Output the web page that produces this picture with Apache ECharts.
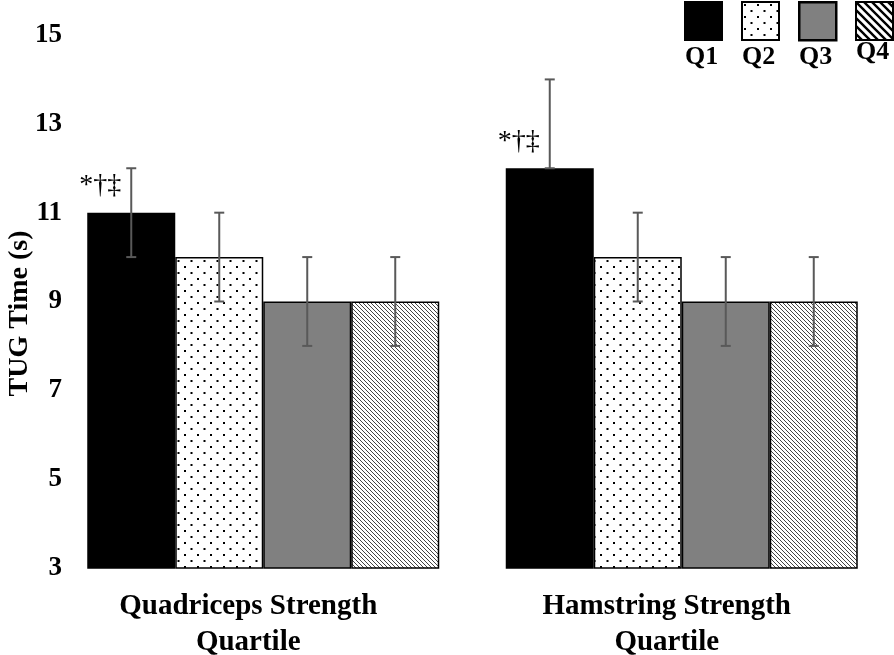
<!DOCTYPE html>
<html>
<head>
<meta charset="utf-8">
<script src="https://cdn.jsdelivr.net/npm/echarts@6/dist/echarts.min.js"></script>
<style>
html,body{margin:0;padding:0;background:#fff;}
#chart{width:894px;height:655px;}
</style>
</head>
<body>
<div id="chart"></div>
<script>
// ---- data ----
var categories = ['Quadriceps Strength\nQuartile', 'Hamstring Strength\nQuartile'];
var seriesNames = ['Q1', 'Q2', 'Q3', 'Q4'];
var q1Values = [11, 12];
var q2Values = [10, 10];
var q3Values = [9, 9];
var q4Values = [9, 9];
var q1Low = [10, 12], q1High = [12, 14];
var q2Low = [9, 9],   q2High = [11, 11];
var q3Low = [8, 8],   q3High = [10, 10];
var q4Low = [8, 8],   q4High = [10, 10];
var sigMarks = ['*†‡', '*†‡'];
var yTicks = [3, 5, 7, 9, 11, 13, 15];

var FONT = '"Liberation Serif", "Times New Roman", serif';
var BAR_W = 88;

function makeCanvas(w, h, draw) {
  var c = document.createElement('canvas');
  c.width = w; c.height = h;
  var ctx = c.getContext('2d');
  ctx.fillStyle = '#fff'; ctx.fillRect(0, 0, w, h);
  draw(ctx, w, h);
  return c;
}
var dotCanvas = makeCanvas(13, 12, function (ctx) {
  ctx.fillStyle = '#000';
  ctx.fillRect(2, 2, 2, 2);
  ctx.fillRect(8.5, 8, 2, 2);
});
function hatch(size, lw, col) {
  return makeCanvas(size, size, function (ctx, w, h) {
    ctx.strokeStyle = col; ctx.lineWidth = lw;
    ctx.beginPath();
    ctx.moveTo(-1, -1); ctx.lineTo(w + 1, h + 1);
    ctx.moveTo(-1, h - 1); ctx.lineTo(1, h + 1);
    ctx.moveTo(w - 1, -1); ctx.lineTo(w + 1, 1);
    ctx.stroke();
  });
}
var hatchCanvas = hatch(4, 1, '#444');
var hatchBold = hatch(8, 2.4, '#000');

var fills = [
  '#000000',
  { image: dotCanvas, repeat: 'repeat' },
  '#808080',
  { image: hatchCanvas, repeat: 'repeat' }
];
var values = [q1Values, q2Values, q3Values, q4Values];
var lows = [q1Low, q2Low, q3Low, q4Low];
var highs = [q1High, q2High, q3High, q4High];

var series = [];
seriesNames.forEach(function (name, i) {
  series.push({
    name: name, type: 'bar', data: values[i],
    barWidth: BAR_W, barGap: '0%',
    itemStyle: { color: fills[i], borderColor: '#000', borderWidth: 1.5 },
    emphasis: { disabled: true }, z: 2
  });
});
seriesNames.forEach(function (name, i) {
  var d = categories.map(function (c, k) { return [k, lows[i][k], highs[i][k]]; });
  series.push({
    type: 'custom', name: name + ' err', data: d, z: 5, silent: true,
    renderItem: function (params, api) {
      var lo = api.coord([api.value(0), api.value(1)]);
      var hi = api.coord([api.value(0), api.value(2)]);
      var x = lo[0] + (i - 1.5) * BAR_W;
      var cap = 5;
      var st = { stroke: '#595959', lineWidth: 2 };
      return { type: 'group', children: [
        { type: 'line', shape: { x1: x, y1: lo[1], x2: x, y2: hi[1] }, style: st },
        { type: 'line', shape: { x1: x - cap, y1: lo[1], x2: x + cap, y2: lo[1] }, style: st },
        { type: 'line', shape: { x1: x - cap, y1: hi[1], x2: x + cap, y2: hi[1] }, style: st }
      ]};
    }
  });
});
series.push({
  type: 'custom', name: 'sig', z: 6, silent: true,
  data: categories.map(function (c, k) { return [k, q1Values[k], sigMarks[k]]; }),
  renderItem: function (params, api) {
    var p = api.coord([api.value(0), api.value(1) + 0.6]);
    var x = p[0] - 1.5 * BAR_W - 10;
    return { type: 'text', style: {
      x: x, y: p[1], text: sigMarks[params.dataIndex], fill: '#000',
      font: '28px ' + FONT, align: 'right', verticalAlign: 'middle' } };
  }
});

var legendData = seriesNames.map(function (n, i) {
  var it = { name: n };
  if (i === 3) it.itemStyle = { color: { image: hatchBold, repeat: 'repeat' } };
  if (i === 2) it.itemStyle = { borderWidth: 2.5 };
  return it;
});
var legendLeft = [684, 741, 798, 855];
var legends = legendData.map(function (d, i) {
  return {
    data: [d], left: legendLeft[i], top: 1, padding: 0, itemWidth: 37, itemHeight: 38,
    icon: 'rect', selectedMode: false, formatter: function () { return ''; },
    textStyle: { fontSize: 1 }
  };
});
var labelY = [57, 57, 57, 52];
var graphics = seriesNames.map(function (n, i) {
  return { type: 'text', left: legendLeft[i] + 1, top: labelY[i] - 13,
    style: { text: n, font: 'bold 26px ' + FONT, fill: '#000', width: 36, align: 'center' } };
});

var chart = echarts.init(document.getElementById('chart'), null, { renderer: 'canvas' });
chart.setOption({
  animation: false,
  backgroundColor: '#fff',
  grid: { left: 54, right: 3, top: 35, bottom: 87, containLabel: false, outerBoundsMode: 'none' },
  legend: legends,
  graphic: graphics,
  xAxis: {
    type: 'category', data: categories,
    axisLine: { show: false }, axisTick: { show: false },
    axisLabel: { interval: 0, margin: 21, fontFamily: FONT, fontWeight: 'bold', fontSize: 29,
      color: '#000', lineHeight: 36, padding: [0, 30, 0, 0] }
  },
  yAxis: {
    type: 'value', min: yTicks[0], max: yTicks[yTicks.length - 1], interval: 2,
    name: 'TUG Time (s)', nameLocation: 'middle', nameRotate: 90, nameGap: 20,
    nameMoveOverlap: false,
    nameTextStyle: { fontFamily: FONT, fontWeight: 'bold', fontSize: 28, color: '#000',
      padding: [0, 24, 0, 0] },
    axisLine: { show: false }, axisTick: { show: false }, splitLine: { show: false },
    axisLabel: { margin: -8, fontFamily: FONT, fontWeight: 'bold', fontSize: 27, color: '#000' }
  },
  series: series
});
</script>
</body>
</html>
